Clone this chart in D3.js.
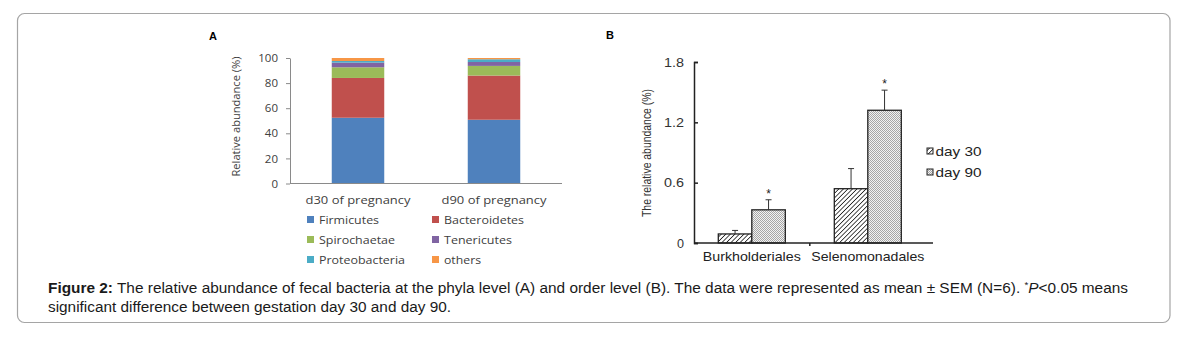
<!DOCTYPE html>
<html><head><meta charset="utf-8">
<script src="https://cdn.jsdelivr.net/npm/d3@7"></script>
<style>body{margin:0;background:#fff}svg{display:block}</style>
</head><body>
<svg id="c" width="1189" height="338"></svg>
<script>
// ---- Panel A data ----
const phylaCategories = ["d30 of pregnancy", "d90 of pregnancy"];
const phylaNames = ["Firmicutes", "Bacteroidetes", "Spirochaetae", "Tenericutes", "Proteobacteria", "others"];
const firmicutes = [52.4, 50.8];
const bacteroidetes = [31.7, 35.2];
const spirochaetae = [8.5, 7.7];
const tenericutes = [3.7, 3.1];
const proteobacteria = [1.3, 2.2];
const others = [2.4, 1.0];
const phylaColors = ["#4f81bd", "#c0504d", "#9bbb59", "#8064a2", "#4bacc6", "#f79646"];
const phylaTicks = [0, 20, 40, 60, 80, 100];

// ---- Panel B data ----
const orderCategories = ["Burkholderiales", "Selenomonadales"];
const groups = ["day 30", "day 90"];
const day30Mean = [0.09, 0.54];
const day30Sem = [0.035, 0.20];
const day90Mean = [0.33, 1.32];
const day90Sem = [0.10, 0.20];
const day90Sig = [true, true];
const orderTicks = [0, 0.6, 1.2, 1.8];

const svg = d3.select("#c");

// card border
svg.append("rect").attr("x", 17.5).attr("y", 13.5).attr("width", 1152.5).attr("height", 309)
  .attr("rx", 7).attr("fill", "none").attr("stroke", "#a5a5a5").attr("stroke-width", 1.2);

// ================= Panel A =================
const gA = svg.append("g");
const fA = "'Open Sans', sans-serif";
gA.append("text").attr("x", 209).attr("y", 40).text("A")
  .attr("font-family", "Arial, 'Liberation Sans', sans-serif").attr("font-weight", "bold").attr("font-size", 11);

const xA = d3.scaleBand().domain(phylaCategories).range([290, 562]).paddingInner(0.614).paddingOuter(0.307);
const yA = d3.scaleLinear().domain([0, 100]).range([183.5, 58]);

const rowsA = phylaCategories.map((c, i) => ({
  cat: c, Firmicutes: firmicutes[i], Bacteroidetes: bacteroidetes[i], Spirochaetae: spirochaetae[i],
  Tenericutes: tenericutes[i], Proteobacteria: proteobacteria[i], others: others[i]
}));
const stackA = d3.stack().keys(phylaNames)(rowsA);
const colA = d3.scaleOrdinal().domain(phylaNames).range(phylaColors);

gA.selectAll("g.layer").data(stackA).join("g").attr("class", "layer")
  .attr("fill", d => colA(d.key))
  .selectAll("rect").data(d => d).join("rect")
  .attr("x", d => xA(d.data.cat)).attr("width", xA.bandwidth())
  .attr("y", d => yA(d[1])).attr("height", d => yA(d[0]) - yA(d[1]));

const axA = gA.append("g").attr("transform", "translate(290,0)")
  .call(d3.axisLeft(yA).tickValues(phylaTicks).tickSize(4).tickSizeOuter(0).tickPadding(8));
axA.selectAll("path,line").attr("stroke", "#8a8a8a");
axA.selectAll("text").attr("font-family", fA).attr("font-size", 11.5).attr("fill", "#404040");

const axAx = gA.append("g").attr("transform", "translate(0,183.5)")
  .call(d3.axisBottom(xA).tickSize(0).tickPadding(12));
axAx.select("path").attr("stroke", "#8a8a8a").attr("d", "M290,0H562");
axAx.selectAll("text").attr("font-family", fA).attr("font-size", 11.5).attr("fill", "#404040")
  .attr("textLength", 105).attr("lengthAdjust", "spacingAndGlyphs");

gA.append("text").attr("transform", "translate(240,116.5) rotate(-90)")
  .attr("text-anchor", "middle").attr("font-family", fA).attr("font-size", 10.5).attr("fill", "#404040")
  .attr("textLength", 120).attr("lengthAdjust", "spacingAndGlyphs")
  .text("Relative abundance (%)");

// legend A
const legWidths = [60, 80, 76, 68, 86, 37];
phylaNames.forEach((n, i) => {
  const col = i % 2, row = Math.floor(i / 2);
  const lx = col === 0 ? 307 : 432, ly = 219.5 + row * 20;
  gA.append("rect").attr("x", lx).attr("y", ly - 3.5).attr("width", 7).attr("height", 7).attr("fill", colA(n));
  gA.append("text").attr("x", lx + 12).attr("y", ly + 4).text(n)
    .attr("font-family", fA).attr("font-size", 11.5).attr("fill", "#404040")
    .attr("textLength", legWidths[i]).attr("lengthAdjust", "spacingAndGlyphs");
});

// ================= Panel B =================
const gB = svg.append("g");
const fB = "Arial, 'Liberation Sans', sans-serif";
const defs = svg.append("defs");
const p1 = defs.append("pattern").attr("id", "hatch").attr("patternUnits", "userSpaceOnUse")
  .attr("width", 3.2).attr("height", 3.2).attr("patternTransform", "rotate(45)");
p1.append("rect").attr("width", 3.2).attr("height", 3.2).attr("fill", "#fff");
p1.append("line").attr("x1", 0).attr("y1", 0).attr("x2", 0).attr("y2", 3.2).attr("stroke", "#222").attr("stroke-width", 1.6);
const p2 = defs.append("pattern").attr("id", "check").attr("patternUnits", "userSpaceOnUse")
  .attr("width", 2).attr("height", 2);
p2.append("rect").attr("width", 2).attr("height", 2).attr("fill", "#f2f2f2");
p2.append("rect").attr("width", 1).attr("height", 1).attr("fill", "#a6a6a6");
p2.append("rect").attr("x", 1).attr("y", 1).attr("width", 1).attr("height", 1).attr("fill", "#a6a6a6");
const fills = ["url(#hatch)", "url(#check)"];

gB.append("text").attr("x", 606).attr("y", 39).text("B")
  .attr("font-family", fB).attr("font-weight", "bold").attr("font-size", 11);

const x0 = d3.scaleBand().domain(orderCategories).range([694, 933]).paddingInner(0.4224).paddingOuter(0.2414).align(0.434);
const x1 = d3.scaleBand().domain(groups).range([0, x0.bandwidth()]);
const yB = d3.scaleLinear().domain([0, 1.8]).range([243, 62]);

const barsB = [];
orderCategories.forEach((c, i) => {
  barsB.push({ cat: c, grp: groups[0], m: day30Mean[i], s: day30Sem[i], sig: false });
  barsB.push({ cat: c, grp: groups[1], m: day90Mean[i], s: day90Sem[i], sig: day90Sig[i] });
});

const bx = d => x0(d.cat) + x1(d.grp);
gB.selectAll("rect.bar").data(barsB).join("rect").attr("class", "bar")
  .attr("x", bx).attr("width", x1.bandwidth())
  .attr("y", d => yB(d.m)).attr("height", d => yB(0) - yB(d.m))
  .attr("fill", d => fills[groups.indexOf(d.grp)]).attr("stroke", "#222").attr("stroke-width", 1.3);

// error bars
const eb = gB.selectAll("g.err").data(barsB).join("g").attr("class", "err");
eb.append("line").attr("x1", d => bx(d) + x1.bandwidth() / 2).attr("x2", d => bx(d) + x1.bandwidth() / 2)
  .attr("y1", d => yB(d.m)).attr("y2", d => yB(d.m + d.s)).attr("stroke", "#333").attr("stroke-width", 1);
eb.append("line").attr("x1", d => bx(d) + x1.bandwidth() / 2 - 3).attr("x2", d => bx(d) + x1.bandwidth() / 2 + 3)
  .attr("y1", d => yB(d.m + d.s)).attr("y2", d => yB(d.m + d.s)).attr("stroke", "#333").attr("stroke-width", 1);
gB.selectAll("text.star").data(barsB.filter(d => d.sig)).join("text").attr("class", "star")
  .attr("x", d => bx(d) + x1.bandwidth() / 2).attr("y", d => yB(d.m + d.s) - 2)
  .attr("text-anchor", "middle").attr("font-family", fB).attr("font-size", 12).attr("fill", "#222").text("*");

// axes B
const axB = gB.append("g").attr("transform", "translate(694,0)")
  .call(d3.axisLeft(yB).tickValues(orderTicks).tickFormat(d => d === 0 ? "0" : d3.format(".1f")(d))
    .tickSizeInner(-4).tickSizeOuter(-4).tickPadding(10));
axB.selectAll("path,line").attr("stroke", "#222").attr("stroke-width", 1.5);
axB.selectAll("text").attr("font-family", fB).attr("font-size", 12.5).attr("fill", "#333")
  .attr("textLength", d => d === 0 ? 7 : 20).attr("lengthAdjust", "spacingAndGlyphs");

const orderLabelWidths = [98, 113];
const axBx = gB.append("g").attr("transform", "translate(0,243)")
  .call(d3.axisBottom(x0).tickSize(0).tickPadding(9));
axBx.select("path").attr("stroke", "#222").attr("stroke-width", 1.5).attr("d", "M694,0H933");
axBx.selectAll("text").attr("font-family", fB).attr("font-size", 13).attr("fill", "#222")
  .attr("textLength", d => orderLabelWidths[orderCategories.indexOf(d)]).attr("lengthAdjust", "spacingAndGlyphs");
const midTick = (x0(orderCategories[0]) + x0.bandwidth() / 2 + x0(orderCategories[1]) + x0.bandwidth() / 2) / 2;
axBx.append("line").attr("x1", midTick).attr("x2", midTick).attr("y1", 0).attr("y2", 3)
  .attr("stroke", "#222").attr("stroke-width", 1.5);

gB.append("text").attr("transform", "translate(651,153) rotate(-90)")
  .attr("text-anchor", "middle").attr("font-family", fB).attr("font-size", 12).attr("fill", "#333")
  .attr("textLength", 128).attr("lengthAdjust", "spacingAndGlyphs")
  .text("The relative abundance (%)");

// legend B
groups.forEach((g, i) => {
  const ly = 151 + i * 21;
  gB.append("rect").attr("x", 927).attr("y", ly - 3).attr("width", 6).attr("height", 6)
    .attr("fill", fills[i]).attr("stroke", "#222").attr("stroke-width", 1);
  gB.append("text").attr("x", 935.5).attr("y", ly + 5).text(g)
    .attr("font-family", fB).attr("font-size", 13).attr("fill", "#222")
    .attr("textLength", 46).attr("lengthAdjust", "spacingAndGlyphs");
});

// ================= Caption =================
const cap = svg.append("g").attr("font-family", fB).attr("font-size", 14).attr("fill", "#1a1a1a");
const l1 = cap.append("text").attr("x", 48).attr("y", 293).attr("textLength", 1080).attr("lengthAdjust", "spacingAndGlyphs");
l1.append("tspan").attr("font-weight", "bold").text("Figure 2:");
l1.append("tspan").text(" The relative abundance of fecal bacteria at the phyla level (A) and order level (B). The data were represented as mean \u00b1 SEM (N=6). ");
l1.append("tspan").attr("font-size", 9).attr("dy", -5).text("*");
l1.append("tspan").attr("font-style", "italic").attr("dy", 5).text("P");
l1.append("tspan").text("<0.05 means");
cap.append("text").attr("x", 48).attr("y", 312).attr("textLength", 403).attr("lengthAdjust", "spacingAndGlyphs")
  .text("significant difference between gestation day 30 and day 90.");
</script>
</body></html>
